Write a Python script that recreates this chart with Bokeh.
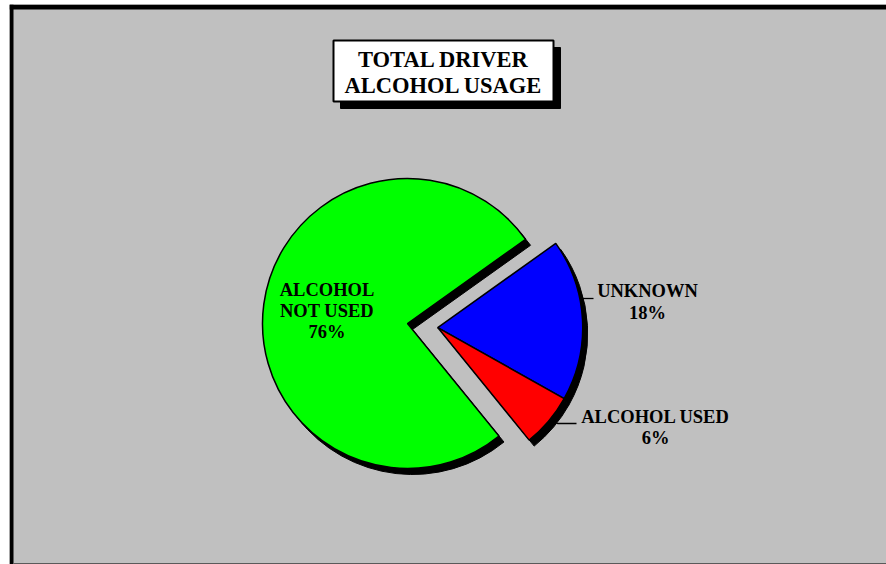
import math
from bokeh.plotting import figure
from bokeh.models import Range1d, ColumnDataSource
from bokeh.core.properties import value
from bokeh.embed import file_html
from bokeh.resources import INLINE

# ---- data (clockwise order from the top-right cut) ----
categories = ["UNKNOWN", "ALCOHOL USED", "ALCOHOL NOT USED"]
percents = [18, 6, 76]
slice_colors = ["#0000FF", "#FF0000", "#00FF00"]
exploded = [True, True, False]
title_lines = ["TOTAL DRIVER", "ALCOHOL USAGE"]

# ---- layout helpers (picture pixel coordinates) ----
def Y(py):
    return 564 - py

TEXT_DY = 8  # empirical baseline correction
FONT = value("Liberation Serif")

p = figure(width=886, height=564,
           x_range=Range1d(9, 886), y_range=Range1d(0, 560),
           x_axis_type=None, y_axis_type=None,
           toolbar_location=None, output_backend="svg",
           min_border_left=9, min_border_top=4,
           min_border_right=0, min_border_bottom=0,
           background_fill_color="#C0C0C0", border_fill_color="white",
           outline_line_color=None)

# frame borders (left + top thick black, thin dark bottom)
p.quad(left=[9, 9, 13], right=[13, 886, 886],
       bottom=[Y(564), Y(9), Y(564)], top=[Y(4), Y(4), Y(562.5)],
       fill_color=["black", "black", "#5A5A5A"], line_color=None)

# ---- pie geometry ----
cx, cy = 407, Y(323)
radius = 145
start_deg = 35.5
explode_dist = 30.5
shadow_dx, shadow_dy = 5, -6

starts, ends = [], []
cur = math.radians(start_deg)
for v in percents:
    a0 = cur - v / 100 * 2 * math.pi
    starts.append(a0)
    ends.append(cur)
    cur = a0

exp_total = sum(v for v, e in zip(percents, exploded) if e)
mid = math.radians(start_deg) - exp_total / 100 * math.pi
ox, oy = explode_dist * math.cos(mid), explode_dist * math.sin(mid)
xs = [cx + (ox if e else 0) for e in exploded]
ys = [cy + (oy if e else 0) for e in exploded]

src = ColumnDataSource(dict(x=xs, y=ys, sa=starts, ea=ends, color=slice_colors,
                            sx=[x + shadow_dx for x in xs],
                            sy=[y + shadow_dy for y in ys],
                            cat=categories, pct=percents))

# shadows
p.wedge(x="sx", y="sy", radius=radius, start_angle="sa", end_angle="ea",
        source=src, fill_color="black", line_color="black", line_width=1)

# leader lines
p.multi_line(xs=[[579, 593], [548, 557, 576]],
             ys=[[Y(298), Y(298)], [Y(419), Y(423), Y(423)]],
             line_color="black", line_width=1.3)

# slices
p.wedge(x="x", y="y", radius=radius, start_angle="sa", end_angle="ea",
        source=src, fill_color="color", line_color="black", line_width=1.5)

# ---- slice labels ----
lab_x, lab_y, lab_t = [], [], []
label_pos = {
    "UNKNOWN": (647, [298, 320]),
    "ALCOHOL USED": (655, [424, 445]),
    "ALCOHOL NOT USED": (326.5, [297, 318, 339]),
}
label_lines = {
    "UNKNOWN": ["UNKNOWN"],
    "ALCOHOL USED": ["ALCOHOL USED"],
    "ALCOHOL NOT USED": ["ALCOHOL", "NOT USED"],
}
for c, v in zip(categories, percents):
    x, bls = label_pos[c]
    lines = label_lines[c] + [f"{v}%"]
    for t, b in zip(lines, bls):
        lab_x.append(x)
        lab_y.append(Y(b - TEXT_DY))
        lab_t.append(t)

p.text(x=lab_x, y=lab_y, text=lab_t, text_align="center",
       text_baseline="alphabetic", text_font=FONT, text_font_style="bold",
       text_font_size="18.5px", text_color="black")

# ---- title box ----
p.quad(left=[340], right=[560], top=[Y(47)], bottom=[Y(108)],
       fill_color="black", line_color="black")
p.quad(left=[333], right=[553], top=[Y(40)], bottom=[Y(101)],
       fill_color="white", line_color="black", line_width=2)
p.text(x=[443, 443], y=[Y(67 - TEXT_DY), Y(93 - TEXT_DY)], text=title_lines,
       text_align="center", text_baseline="alphabetic", text_font=FONT,
       text_font_style="bold", text_font_size="22.5px", text_color="black")

open("out.html", "w").write(file_html(p, INLINE))
